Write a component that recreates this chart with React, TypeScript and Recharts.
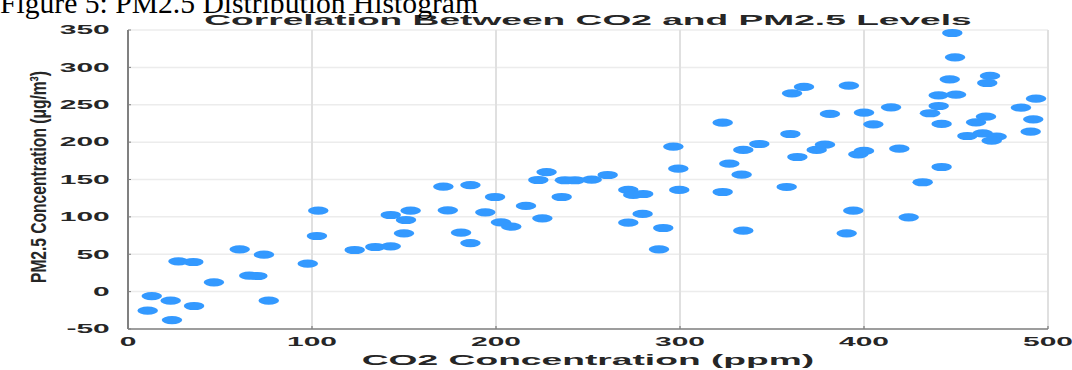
import React from 'react';
import { ScatterChart, Scatter, XAxis, YAxis, CartesianGrid } from 'recharts';

// CO2 (ppm) and PM2.5 readings
const co2 = [
  10.7, 12.9, 23.2, 23.9, 27.4, 35.5, 35.9, 46.7, 60.7, 65.9, 70.3, 73.9, 76.5, 97.7, 103.4, 102.7,
  123.2, 134.4, 142.8, 142.8, 150, 151.1, 153.6, 171.4, 173.8, 181, 186.1, 186.1, 194.2, 199.5,
  202.7, 208.3, 216.3, 223, 227.5, 225.2, 235.7, 237.5, 242.9, 252, 260.7, 271.9, 274.6, 280,
  271.9, 279.7, 290.9, 288.6, 296.4, 299.1, 299.6, 323.2, 323.2, 326.8, 334.4, 333.5, 334.4,
  343.1, 358, 360.9, 367.4, 360, 363.8, 374.3, 378.8, 381.5, 391.8, 394.2, 390.6, 400, 405.1,
  396.9, 400, 414.7, 419.2, 431.9, 424.3, 435.9, 440.6, 440.6, 442.2, 442.2, 448, 449.5, 446.6,
  450, 456.2, 460.9, 466.3, 468.5, 467, 464.5, 472.1, 469.4, 485.3, 493.5, 492, 490.6,
];
const pm25 = [
  -25.5, -5.9, -12.1, -38, 40.6, 39.6, -19.2, 12.5, 56.6, 21.3, 20.9, 49.4, -12.1, 37.4, 108.3, 74.4,
  55.7, 59.7, 60.6, 102.5, 78, 95.8, 108.3, 140.4, 108.8, 78.9, 142.6, 65, 106.1, 126.6,
  92.7, 86.9, 114.6, 149.3, 160, 98.1, 126.6, 149, 149, 149.8, 156, 136, 129.3, 130.6,
  92.2, 103.9, 85.1, 56.6, 193.9, 164.5, 136, 226, 133.3, 171.2, 189.5, 156.5, 81.5,
  197.5, 140, 265.3, 273.8, 210.9, 180.1, 189.5, 196.6, 237.7, 275.5, 108.3, 78, 239.4, 223.8,
  183.7, 188.2, 246.6, 191.2, 146.3, 99.4, 238.6, 262.6, 248.3, 224.3, 166.7, 346, 313.5, 284,
  263.5, 208.2, 226.5, 234, 288.5, 279.1, 211.8, 207.3, 201.9, 246.1, 258.1, 230.5, 214,
];
const xTicks = [0, 100, 200, 300, 400, 500];
const yTicks = [-50, 0, 50, 100, 150, 200, 250, 300, 350];

const data = co2.map((c, i) => ({ co2: c, pm25: pm25[i] }));

// the reference is stretched sideways, so the chart is drawn narrow and scaled
const STRETCH = 2.5;
const W = 1072;
const H = 370;
const innerW = W / STRETCH;
const FONT = '"Liberation Sans", Arial, sans-serif';

const Dot = (props: any) => <circle cx={props.cx} cy={props.cy} r={4.1} fill="#3399ff" />;

const App = () => {
  return (
    <div style={{ position: 'absolute', left: 0, top: 0, width: W, height: H, overflow: 'hidden', background: '#fff', fontFamily: FONT }}>
      <div style={{ position: 'absolute', left: 0, top: 0, width: innerW, height: H, transform: `scaleX(${STRETCH})`, transformOrigin: '0 0' }}>
        <ScatterChart width={innerW} height={H} margin={{ top: 30, right: innerW - 419.2, left: 0, bottom: 0 }}>
          <CartesianGrid vertical={false} stroke="#ececec" strokeWidth={1.5} />
          <CartesianGrid horizontal={false} stroke="#e0e0e0" strokeWidth={0.8} />
          <XAxis
            type="number"
            dataKey="co2"
            domain={[0, 500]}
            ticks={xTicks}
            height={41}
            tickSize={-3}
            tickMargin={11}
            axisLine={{ stroke: '#808080', strokeWidth: 1.5 }}
            tickLine={{ stroke: '#808080', strokeWidth: 0.5 }}
            tick={{ fontSize: 12, fontWeight: 700, fill: '#262626' }}
          />
          <YAxis
            type="number"
            dataKey="pm25"
            domain={[-50, 350]}
            ticks={yTicks}
            width={51.2}
            tickSize={-1.2}
            tickMargin={8.5}
            axisLine={{ stroke: '#808080', strokeWidth: 0.8 }}
            tickLine={{ stroke: '#808080', strokeWidth: 1 }}
            tick={{ fontSize: 12, fontWeight: 700, fill: '#262626' }}
          />
          <Scatter data={data} shape={Dot} isAnimationActive={false} />
        </ScatterChart>
        <svg width={innerW} height={H} style={{ position: 'absolute', left: 0, top: 0, pointerEvents: 'none' }}>
          <text x={235.2} y={25} textAnchor="middle" fontSize={15} fontWeight={700} fill="#262626" textLength={307} lengthAdjust="spacingAndGlyphs">
            Correlation Between CO2 and PM2.5 Levels
          </text>
          <text x={235.2} y={365} textAnchor="middle" fontSize={15} fontWeight={700} fill="#262626" textLength={181} lengthAdjust="spacingAndGlyphs">
            CO2 Concentration (ppm)
          </text>
        </svg>
      </div>
      <svg width={W} height={H} style={{ position: 'absolute', left: 0, top: 0, pointerEvents: 'none' }}>
        <text x={0} y={12.5} fontFamily={'"Liberation Serif", "Times New Roman", serif'} fontSize={29.6} fill="#000" textLength={478} lengthAdjust="spacingAndGlyphs">
          Figure 5: PM2.5 Distribution Histogram
        </text>
        <text
          transform="translate(46, 177) rotate(-90)"
          textAnchor="middle"
          fontSize={22}
          fontWeight={700}
          fill="#262626"
          textLength={212}
          lengthAdjust="spacingAndGlyphs"
        >
          PM2.5 Concentration (μg/m³)
        </text>
      </svg>
    </div>
  );
};

export default App;
